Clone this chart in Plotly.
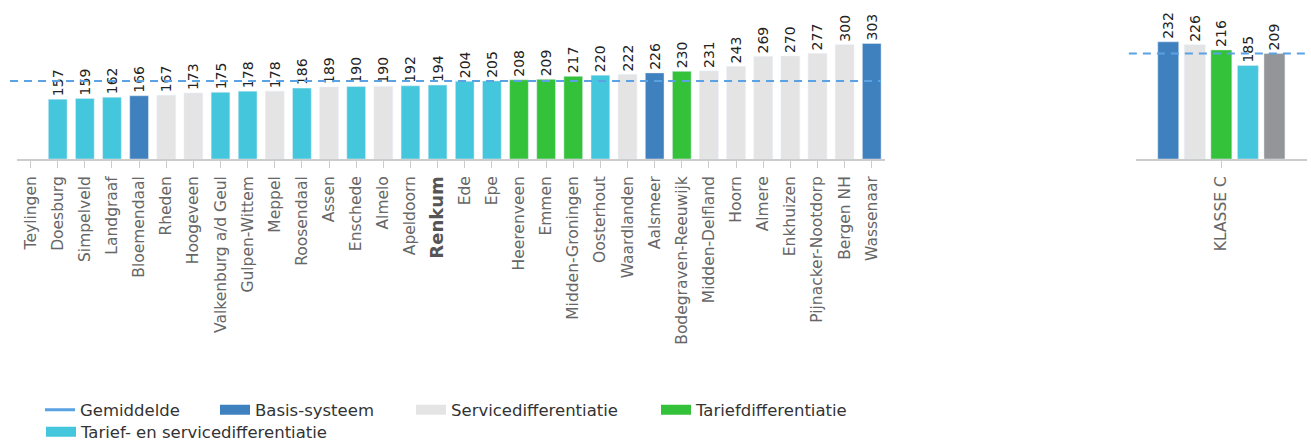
import plotly.graph_objects as go

# ---------------- data ----------------
municipalities = [
    "Teylingen", "Doesburg", "Simpelveld", "Landgraaf", "Bloemendaal", "Rheden",
    "Hoogeveen", "Valkenburg a/d Geul", "Gulpen-Wittem", "Meppel", "Roosendaal",
    "Assen", "Enschede", "Almelo", "Apeldoorn", "Renkum", "Ede", "Epe",
    "Heerenveen", "Emmen", "Midden-Groningen", "Oosterhout", "Waardlanden",
    "Aalsmeer", "Bodegraven-Reeuwijk", "Midden-Delfland", "Hoorn", "Almere",
    "Enkhuizen", "Pijnacker-Nootdorp", "Bergen NH", "Wassenaar",
]
values = [
    None, 157, 159, 162, 166, 167, 173, 175, 178, 178, 186, 189, 190, 190, 192,
    194, 204, 205, 208, 209, 217, 220, 222, 226, 230, 231, 243, 269, 270, 277,
    300, 303,
]
B, S, T, TS = ("Basis-systeem", "Servicedifferentiatie", "Tariefdifferentiatie",
               "Tarief- en servicedifferentiatie")
system_types = [
    None, TS, TS, TS, B, S, S, TS, TS, S, TS, S, TS, S, TS, TS, TS, TS,
    T, T, T, TS, S, B, T, S, S, S, S, S, S, B,
]
highlight = "Renkum"
avg_municipalities = 205

class_label = "KLASSE C"
class_values = [232, 226, 216, 185, 209]
class_types = [B, S, T, TS, "Gemiddelde"]
avg_class = 209

legend_names = ["Gemiddelde", B, S, T, TS]

# ---------------- style ----------------
colors = {
    B: "#3f80bf",
    S: "#e4e4e4",
    T: "#33c23a",
    TS: "#44c6dc",
    "Gemiddelde": "#939598",
}
avg_color = "#5aa2e3"
FONT = "DejaVu Sans"
W, H = 1311, 441

fig = go.Figure()

# left panel bars, one trace per system type
for st in [B, S, T, TS]:
    xs = [m for m, t in zip(municipalities, system_types) if t == st]
    ys = [v for v, t in zip(values, system_types) if t == st]
    fig.add_trace(go.Bar(
        x=xs, y=ys, name=st, marker_color=colors[st], width=0.69,
        offsetgroup="left", xaxis="x", yaxis="y",
        text=[str(v) for v in ys], textposition="outside", textangle=-90,
        constraintext="none", cliponaxis=False,
        textfont=dict(family=FONT, size=14, color="#222222"),
        showlegend=False, legendgroup=st, hoverinfo="x+y",
    ))

# right panel bars
for i, (v, st) in enumerate(zip(class_values, class_types)):
    fig.add_trace(go.Bar(
        x=[class_label], y=[v], name=st, marker_color=colors[st],
        offsetgroup=f"r{i}", xaxis="x2", yaxis="y2",
        text=[str(v)], textposition="outside", textangle=-90,
        constraintext="none", cliponaxis=False,
        textfont=dict(family=FONT, size=14, color="#222222"),
        showlegend=False, legendgroup=st, hoverinfo="y",
    ))

# legend entries (one legend per entry so they can be placed like the original)
legend_pos = {
    "Gemiddelde": (40, 410),
    B: (215, 410),
    S: (411, 410),
    T: (656, 410),
    TS: (41, 432),
}
for k, name in enumerate(legend_names):
    lid = "legend" if k == 0 else f"legend{k + 1}"
    if name == "Gemiddelde":
        line = dict(color=avg_color, width=3)
    else:
        line = dict(color=colors[name], width=15)
    fig.add_trace(go.Scatter(
        x=[None], y=[None], mode="lines", name=name, line=line,
        legend=lid, legendgroup=name, showlegend=True, hoverinfo="skip",
    ))

# average lines
fig.add_shape(type="line", xref="x domain", yref="y", x0=-0.008, x1=0.995,
              y0=avg_municipalities, y1=avg_municipalities,
              line=dict(color=avg_color, width=2, dash="8px,6px"))
fig.add_shape(type="line", xref="x2 domain", yref="y2", x0=-0.04, x1=0.99,
              y0=avg_class, y1=avg_class,
              line=dict(color=avg_color, width=2, dash="8px,6px"))

ticktext = [
    f'<span style="font-size:18px;color:#555555"><b>{m}</b></span>' if m == highlight else m
    for m in municipalities
]

ml, mr, mt, mb = 8, 4, 10, 282
pw = W - ml - mr

layout_legends = {}
for k, name in enumerate(legend_names):
    lid = "legend" if k == 0 else f"legend{k + 1}"
    x, y = legend_pos[name]
    layout_legends[lid] = dict(
        xref="container", yref="container", x=x / W, y=1 - y / H,
        xanchor="left", yanchor="middle", orientation="h",
        bgcolor="rgba(0,0,0,0)", borderwidth=0,
        font=dict(family=FONT, size=16.5, color="#333333"),
        itemwidth=30,
    )

axis_common = dict(
    tickangle=-90, tickfont=dict(family=FONT, size=15.5, color="#666666"),
    showline=True, linecolor="#cccccc", linewidth=2,
    ticks="outside", ticklen=7, tickcolor="#cccccc", tickwidth=1,
    ticklabelstandoff=2, showgrid=False, zeroline=False,
)

fig.update_layout(
    width=W, height=H,
    margin=dict(l=ml, r=mr, t=mt, b=mb),
    plot_bgcolor="white", paper_bgcolor="white",
    barmode="group", bargap=0.225, bargroupgap=0.21,
    font=dict(family=FONT, size=14, color="#666666"),
    xaxis=dict(
        domain=[(17 - ml) / pw, (885.3 - ml) / pw],
        type="category", categoryorder="array", categoryarray=municipalities,
        range=[-0.5, len(municipalities) - 0.5],
        tickmode="array", tickvals=municipalities, ticktext=ticktext,
        **axis_common,
    ),
    yaxis=dict(range=[0, 391], visible=False, showgrid=False, zeroline=False),
    xaxis2=dict(
        domain=[(1135.7 - ml) / pw, 1], anchor="y2", type="category",
        **axis_common,
    ),
    yaxis2=dict(range=[0, 295], anchor="x2", visible=False,
                showgrid=False, zeroline=False),
    **layout_legends,
)

fig.write_html(
    "out.html",
    config={"displayModeBar": False},
    post_script="document.body.style.margin='0';document.body.style.overflow='hidden';",
)
